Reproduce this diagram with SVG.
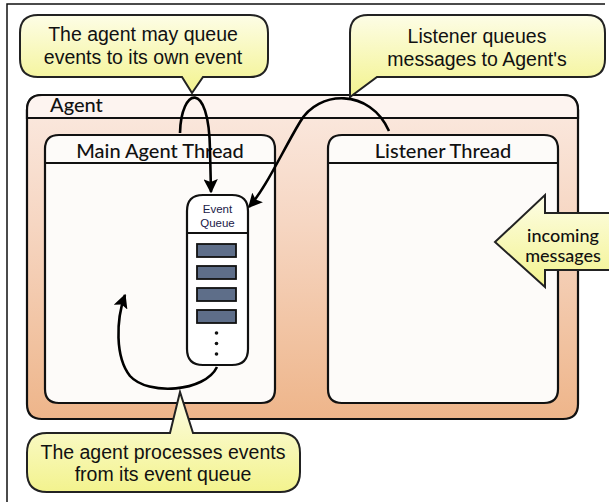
<svg xmlns="http://www.w3.org/2000/svg" width="609" height="502" viewBox="0 0 609 502">
<defs>
<linearGradient id="agentGrad" x1="0" y1="0" x2="0" y2="1">
<stop offset="0" stop-color="#FBEAE1"/>
<stop offset="0.4" stop-color="#F6D6C2"/>
<stop offset="1" stop-color="#EEB58A"/>
</linearGradient>
<linearGradient id="calloutGrad" x1="0" y1="0" x2="0" y2="1">
<stop offset="0" stop-color="#FDFDE6"/>
<stop offset="1" stop-color="#F3F38E"/>
</linearGradient>
<marker id="arrow" viewBox="0 0 10 10" refX="9" refY="5" markerWidth="5.5" markerHeight="5.5" orient="auto" markerUnits="strokeWidth">
<path d="M0,0 L10,5 L0,10 L2,5 Z" fill="#000"/>
</marker>
</defs>
<style>
.box{stroke:#111;stroke-width:2.2}
.title{font-family:Lato,"Open Sans",sans-serif;fill:#111;font-weight:500}
.callout{fill:url(#calloutGrad);stroke:#222;stroke-width:2}
.ctext{font-family:"Liberation Sans",Arial,sans-serif;font-size:19.5px;fill:#111;text-anchor:middle}
.conn{fill:none;stroke:#000;stroke-width:2.6}
.item{fill:#5E6E89;stroke:#111;stroke-width:1.8}
</style>
<rect width="609" height="502" fill="#fff"/>
<path d="M7,502 L7,4 L605,4" fill="none" stroke="#111" stroke-width="1.5"/>

<g id="agent">
<path class="box" d="M42,95 H563 Q578,95 578,110 V404 Q578,419 563,419 H42 Q27,419 27,404 V110 Q27,95 42,95 Z" fill="url(#agentGrad)"/>
<path d="M42,95 H563 Q578,95 578,110 V118 H27 V110 Q27,95 42,95 Z" fill="#FDF4F0" class="box"/>
<text class="title" x="50" y="112" font-size="20">Agent</text>
</g>

<g id="main-thread">
<path class="box" d="M59,135 H261 Q275,135 275,149 V389 Q275,403 261,403 H59 Q45,403 45,389 V149 Q45,135 59,135 Z" fill="#FDFBF9"/>
<line class="box" x1="45" y1="163" x2="275" y2="163"/>
<text class="title" x="160" y="158" font-size="20" text-anchor="middle">Main Agent Thread</text>
</g>

<g id="listener-thread">
<path class="box" d="M342,135 H544 Q558,135 558,149 V389 Q558,403 544,403 H342 Q328,403 328,389 V149 Q328,135 342,135 Z" fill="#FDFBF9"/>
<line class="box" x1="328" y1="163" x2="558" y2="163"/>
<text class="title" x="443" y="158" font-size="20" text-anchor="middle">Listener Thread</text>
</g>

<g id="event-queue">
<path class="box" d="M203,195 H232 Q248,195 248,211 V349 Q248,365 232,365 H203 Q187,365 187,349 V211 Q187,195 203,195 Z" fill="#fff" stroke-width="2"/>
<line class="box" x1="187" y1="233" x2="248" y2="233" stroke-width="2"/>
<text x="217.5" y="213" font-family="'Liberation Sans',Arial,sans-serif" font-size="11.5" fill="#1A2048" text-anchor="middle">Event</text>
<text x="217.5" y="227" font-family="'Liberation Sans',Arial,sans-serif" font-size="11.5" fill="#1A2048" text-anchor="middle">Queue</text>
<rect class="item" x="197" y="244" width="39" height="13"/>
<rect class="item" x="197" y="266" width="39" height="13"/>
<rect class="item" x="197" y="288" width="39" height="13"/>
<rect class="item" x="197" y="310" width="39" height="13"/>
<circle cx="216.5" cy="333" r="1.8" fill="#111"/>
<circle cx="216.5" cy="343.5" r="1.8" fill="#111"/>
<circle cx="216.5" cy="354" r="1.8" fill="#111"/>
</g>

<g id="incoming-messages">
<path d="M609,213 H545 V195 L495,242 L545,287 V270 H609" fill="url(#calloutGrad)" stroke="#222" stroke-width="2"/>
<text class="title" x="563" y="242" font-size="18" text-anchor="middle">incoming</text>
<text class="title" x="563" y="262" font-size="18" text-anchor="middle">messages</text>
</g>

<g id="callout-own-event">
<path class="callout" d="M38,15 H250 Q268,15 268,33 V59 Q268,77 250,77 H203 L192,93 L182,77 H38 Q20,77 20,59 V33 Q20,15 38,15 Z"/>
<text class="ctext" x="143" y="41">The agent may queue</text>
<text class="ctext" x="143" y="64">events to its own event</text>
</g>

<g id="callout-listener">
<path class="callout" d="M368,15 H587 Q605,15 605,33 V59 Q605,77 587,77 H377 L350,97 L350,71 V33 Q350,15 368,15 Z"/>
<text class="ctext" x="477" y="43">Listener queues</text>
<text class="ctext" x="477" y="66">messages to Agent's</text>
</g>

<g id="callout-processes">
<path class="callout" d="M193,433 L180,392 L170,433 H47 Q27,433 27,453 V472 Q27,492 47,492 H280 Q300,492 300,472 V453 Q300,433 280,433 Z"/>
<text class="ctext" x="163" y="459">The agent processes events</text>
<text class="ctext" x="163" y="481">from its event queue</text>
</g>

<g id="connectors">
<path class="conn" marker-end="url(#arrow)" d="M180,133 C181,88 209,78 210,150 L211,192"/>
<path class="conn" marker-end="url(#arrow)" d="M389,131 C370,88 318,90 300,122 C282,152 266,188 249,207"/>
<path class="conn" marker-end="url(#arrow)" d="M217,367 C205,392 148,396 130,376 C115,357 116,320 125,295"/>
</g>
</svg>
